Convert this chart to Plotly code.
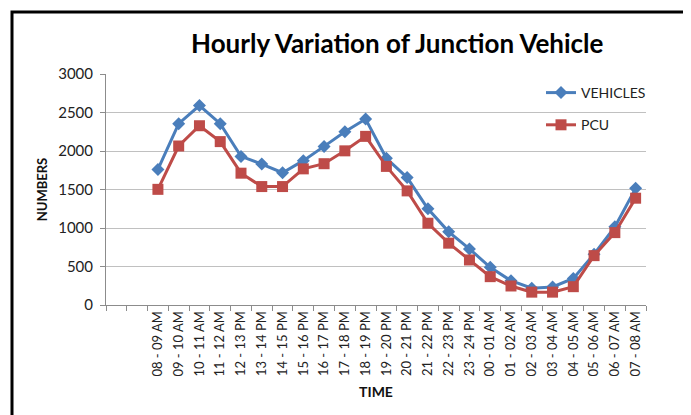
import plotly.graph_objects as go

time_labels = ["08 - 09 AM", "09 - 10 AM", "10 - 11 AM", "11 - 12 AM", "12 - 13 PM",
               "13 - 14 PM", "14 - 15 PM", "15 - 16 PM", "16 - 17 PM", "17 - 18 PM",
               "18 - 19 PM", "19 - 20 PM", "20 - 21 PM", "21 - 22 PM", "22 - 23 PM",
               "23 - 24 PM", "00 - 01 AM", "01 - 02 AM", "02 - 03 AM", "03 - 04 AM",
               "04 - 05 AM", "05 - 06 AM", "06 - 07 AM", "07 - 08 AM"]
empty_categories = [" ", "  "]
vehicles = [1760, 2355, 2590, 2355, 1930, 1830, 1718, 1875, 2060, 2250, 2415, 1905,
            1655, 1250, 950, 728, 490, 315, 218, 235, 345, 660, 1015, 1515]
pcu = [1502, 2065, 2328, 2122, 1712, 1538, 1538, 1768, 1835, 2002, 2190, 1800,
       1482, 1062, 803, 585, 368, 247, 167, 167, 238, 641, 940, 1387]
y_ticks = [0, 500, 1000, 1500, 2000, 2500, 3000]

FONT = "Lato"
fig = go.Figure()
fig.add_trace(go.Scatter(
    x=time_labels, y=vehicles, name="VEHICLES", mode="lines+markers",
    line=dict(color="#4a7ebb", width=3),
    marker=dict(symbol="diamond", size=10, color="#4a7ebb"),
    legendgroup="a"))
fig.add_trace(go.Scatter(
    x=time_labels, y=pcu, name="PCU", mode="lines+markers",
    line=dict(color="#be4b48", width=3),
    marker=dict(symbol="square", size=11, color="#be4b48"),
    legendgroup="b"))

OFF = 8  # page offset of the rendered figure
W, H = 691 - OFF, 415 - OFF
L, T = 106 - OFF, 74 - OFF
R = W - (646 - OFF)
B = H - (305 - OFF)
pw, ph = W - L - R, H - T - B

def px(x):
    return (x - OFF - L) / pw

def py(y):
    return (H - B - (y - OFF)) / ph

fig.update_layout(
    width=W, height=H,
    margin=dict(l=L, r=R, t=T, b=B),
    paper_bgcolor="white", plot_bgcolor="white",
    font=dict(family=FONT, color="#222"),
    showlegend=True,
    legend=dict(x=px(541), y=py(77), xanchor="left", yanchor="top",
                font=dict(size=14, family=FONT, color="#222"),
                tracegroupgap=11, traceorder="grouped",
                bgcolor="rgba(0,0,0,0)", itemwidth=30),
    xaxis=dict(
        type="category",
        categoryorder="array",
        categoryarray=empty_categories + time_labels,
        range=[-0.5, len(empty_categories) + len(time_labels) - 0.5],
        tickson="boundaries", ticks="outside", ticklen=5, tickcolor="#8c8c8c",
        tickangle=-90, tickfont=dict(size=13, family=FONT, color="#222"),
        showline=True, linecolor="#8c8c8c", linewidth=1,
        showgrid=False, zeroline=False,
        title=dict(text="<b>TIME</b>", font=dict(size=14, family=FONT, color="#111"), standoff=11),
    ),
    yaxis=dict(
        range=[0, 3000], tickvals=y_ticks,
        ticks="outside", ticklen=5, tickcolor="#8c8c8c", ticklabelstandoff=4,
        tickfont=dict(size=15, family=FONT, color="#222"),
        showline=True, linecolor="#8c8c8c", linewidth=1,
        showgrid=True, gridcolor="#c0c0c0", gridwidth=1, zeroline=False,
        title=dict(text="<b>NUMBERS</b>", font=dict(size=13, family=FONT, color="#111"), standoff=7),
    ),
    annotations=[dict(
        text="<b>Hourly Variation of Junction Vehicle</b>",
        xref="paper", yref="paper", x=px(397), y=py(43),
        xanchor="center", yanchor="middle", showarrow=False,
        font=dict(size=26, family=FONT, color="#000"))],
    shapes=[dict(type="rect", xref="paper", yref="paper",
                 x0=px(12), x1=px(688), y0=py(440), y1=py(12),
                 line=dict(color="black", width=3), layer="below")],
)

fig.write_html("out.html")
